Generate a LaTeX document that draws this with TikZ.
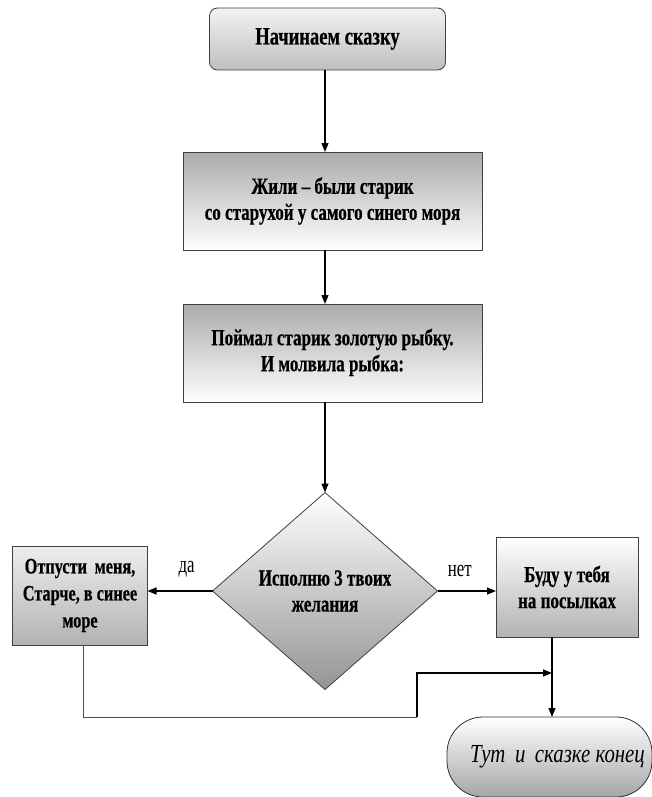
\documentclass[tikz,border=0pt]{standalone}
\usepackage{fontspec}
\setmainfont{Liberation Serif}
\newfontfamily\boxbf{Liberation Serif Bold}[FakeStretch=0.74,FakeBold=0.5]
\newfontfamily\lblfont{Liberation Serif}[FakeStretch=0.7]
\newfontfamily\endfont{Liberation Serif Italic}[FakeStretch=0.8]
\usetikzlibrary{arrows.meta,shapes.geometric}
\begin{document}
\begin{tikzpicture}[x=1pt,y=-1pt,
  every node/.style={inner sep=0pt,outer sep=0pt},
  boxtext/.style={font=\boxbf\fontsize{23}{26}\selectfont,align=center,text=black},
  procbox/.style={draw=black!75,line width=0.8pt,rectangle,boxtext},
  flow/.style={draw=black,line width=1.3pt,-{Triangle[length=9pt,width=7pt]}},
  thinline/.style={draw=black!70,line width=0.8pt},
  lbl/.style={font=\lblfont\fontsize{24}{26}\selectfont}
]
\useasboundingbox (0,0) rectangle (652,797);
\fill[white] (0,0) rectangle (652,797);
\coordinate (ax) at (325,0);

\node[procbox,rounded corners=8pt,minimum width=236pt,minimum height=62pt,
  top color=white!95!black,bottom color=black!25,
  font=\boxbf\fontsize{25}{26}\selectfont] (start) at (327.5,39) {Начинаем сказку};

\node[procbox,minimum width=299pt,minimum height=98pt,
  top color=black!33,bottom color=white] (b2) at (332.5,201)
  {Жили – были старик\\со старухой у самого синего моря};

\node[procbox,minimum width=299pt,minimum height=98pt,
  top color=black!33,bottom color=white] (b3) at (332.5,353)
  {\raisebox{10pt}{\begin{tabular}{@{}c@{}}Поймал старик золотую рыбку.\\И молвила рыбка:\end{tabular}}};

\node[procbox,diamond,minimum width=225pt,minimum height=197pt,
  top color=white,bottom color=black!42] (dec) at (325,591)
  {Исполню 3 твоих\\желания};

\node[procbox,minimum width=135pt,minimum height=99pt,
  top color=black!7,bottom color=black!30,
  font=\boxbf\fontsize{22}{27}\selectfont] (yes) at (80,595.5)
  {Отпусти\, меня,\\Старче, в синее\\море};

\node[procbox,minimum width=142pt,minimum height=100pt,
  top color=white,bottom color=black!30] (no) at (567,587)
  {Буду у тебя\\на посылках};

\node[draw=black!80,line width=0.8pt,rounded corners=36pt,minimum width=205pt,minimum height=80pt,
  top color=white,bottom color=black!35,
  font=\endfont\fontsize{26}{28}\selectfont] (end) at (549.5,757)
  {\hspace{16pt}Тут\, и\, сказке конец};

\coordinate (ex) at (552,0);
\coordinate (lx) at (83,0);
\coordinate (c1) at (417,717);
\coordinate (c2) at (417,673);

\draw[flow] (start.south -| ax) -- (b2.north -| ax);
\draw[flow] (b2.south -| ax) -- (b3.north -| ax);
\draw[flow] (b3.south -| ax) -- (dec.north);
\draw[flow] (dec.west) -- node[lbl,above=14pt,pos=0.4] {да} (yes.east |- dec.west);
\draw[flow] (dec.east) -- node[lbl,above=14pt,pos=0.38] {нет} (no.west |- dec.east);
\draw[flow] (no.south -| ex) -- (end.north -| ex);
\draw[thinline] (yes.south -| lx) |- (c1);
\draw[flow] (c1) -- (c2) -- (c2 -| ex);
\end{tikzpicture}
\end{document}
